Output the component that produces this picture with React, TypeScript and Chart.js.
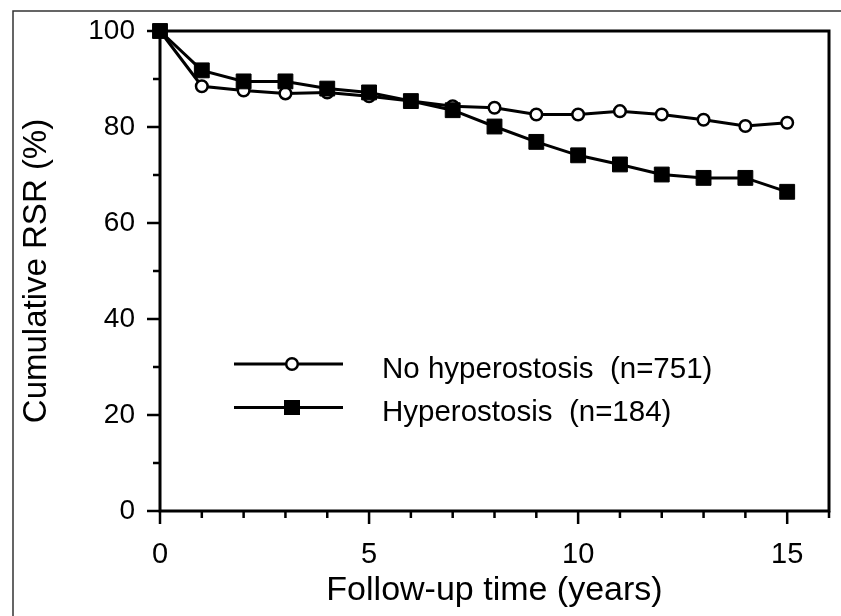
import React, { useEffect, useRef } from 'react';
import { Chart, registerables } from 'chart.js';

Chart.register(...registerables);

// ---- Data ----
const years = [0, 1, 2, 3, 4, 5, 6, 7, 8, 9, 10, 11, 12, 13, 14, 15];
const noHyperostosis = [100, 88.5, 87.6, 87.0, 87.2, 86.4, 85.4, 84.3, 84.0, 82.6, 82.6, 83.3, 82.6, 81.5, 80.2, 80.9];
const hyperostosis = [100, 91.8, 89.5, 89.5, 88.0, 87.2, 85.4, 83.5, 80.1, 76.9, 74.1, 72.2, 70.1, 69.4, 69.4, 66.5];
const xTickValues = [0, 5, 10, 15];
const yTickValues = [0, 20, 40, 60, 80, 100];
const xMinorTicks = [0, 1, 2, 3, 4, 5, 6, 7, 8, 9, 10, 11, 12, 13, 14, 15, 16];
const yMinorTicks = [0, 10, 20, 30, 40, 50, 60, 70, 80, 90, 100];
const seriesLabels = ['No hyperostosis  (n=751)', 'Hyperostosis  (n=184)'];
const xTitle = 'Follow-up time (years)';
const yTitle = 'Cumulative RSR (%)';

const FONT = '"Liberation Sans", Arial, Helvetica, sans-serif';
const W = 841;
const H = 616;

const drawCircleMarker = (ctx: CanvasRenderingContext2D, x: number, y: number) => {
  ctx.beginPath();
  ctx.arc(x, y, 5.8, 0, Math.PI * 2);
  ctx.fillStyle = '#fff';
  ctx.fill();
  ctx.lineWidth = 2.5;
  ctx.strokeStyle = '#000';
  ctx.stroke();
};

const drawSquareMarker = (ctx: CanvasRenderingContext2D, x: number, y: number) => {
  ctx.fillStyle = '#000';
  ctx.fillRect(x - 8, y - 7.5, 16, 15);
};

const decorPlugin = {
  id: 'decor',
  beforeDraw(chart: any) {
    const ctx = chart.ctx as CanvasRenderingContext2D;
    ctx.save();
    ctx.fillStyle = '#fff';
    ctx.fillRect(0, 0, W, H);
    // outer figure frame (top and left visible)
    ctx.strokeStyle = '#333';
    ctx.lineWidth = 1.5;
    ctx.beginPath();
    ctx.moveTo(13, H);
    ctx.lineTo(13, 11);
    ctx.lineTo(W, 11);
    ctx.stroke();
    ctx.restore();
  },
  beforeDatasetsDraw(chart: any) {
    const ctx = chart.ctx as CanvasRenderingContext2D;
    const { left, right, top, bottom } = chart.chartArea;
    const xs = chart.scales.x;
    const ys = chart.scales.y;
    ctx.save();
    ctx.strokeStyle = '#000';
    ctx.lineWidth = 3;
    ctx.strokeRect(left, top, right - left, bottom - top);
    ctx.lineWidth = 2.5;
    ctx.beginPath();
    yMinorTicks.forEach((v) => {
      const py = ys.getPixelForValue(v);
      const len = v % 20 === 0 ? 13 : 7;
      ctx.moveTo(left, py);
      ctx.lineTo(left - len, py);
    });
    xMinorTicks.forEach((v) => {
      const px = xs.getPixelForValue(v);
      const len = v % 5 === 0 ? 13 : 7;
      ctx.moveTo(px, bottom);
      ctx.lineTo(px, bottom + len);
    });
    ctx.stroke();
    ctx.restore();
  },
  afterDraw(chart: any) {
    const ctx = chart.ctx as CanvasRenderingContext2D;
    ctx.save();
    const rows = [
      { y: 364, ty: 370, label: seriesLabels[0], marker: drawCircleMarker },
      { y: 407.5, ty: 413, label: seriesLabels[1], marker: drawSquareMarker },
    ];
    rows.forEach((r) => {
      ctx.strokeStyle = '#000';
      ctx.lineWidth = 3;
      ctx.beginPath();
      ctx.moveTo(234, r.y);
      ctx.lineTo(343, r.y);
      ctx.stroke();
      r.marker(ctx, 292, r.y);
      ctx.fillStyle = '#000';
      ctx.font = `29.5px ${FONT}`;
      ctx.textAlign = 'left';
      ctx.textBaseline = 'middle';
      ctx.fillText(r.label, 382, r.ty);
    });
    ctx.restore();
  },
};

export default function App() {
  const ref = useRef<HTMLCanvasElement | null>(null);

  useEffect(() => {
    document.body.style.margin = '0';
    const canvas = ref.current;
    if (!canvas) return;
    const chart = new Chart(canvas, {
      type: 'line',
      data: {
        datasets: [
          {
            label: seriesLabels[1],
            data: years.map((x, i) => ({ x, y: hyperostosis[i] })),
            borderColor: '#000',
            borderWidth: 3,
            pointStyle: 'rect',
            pointRadius: 10.5,
            pointBackgroundColor: '#000',
            pointBorderColor: '#000',
            pointBorderWidth: 1,
            tension: 0,
            clip: false,
          },
          {
            label: seriesLabels[0],
            data: years.map((x, i) => ({ x, y: noHyperostosis[i] })),
            borderColor: '#000',
            borderWidth: 3,
            pointStyle: 'circle',
            pointRadius: 5.8,
            pointBackgroundColor: '#fff',
            pointBorderColor: '#000',
            pointBorderWidth: 2.5,
            tension: 0,
            clip: false,
          },
        ],
      },
      options: {
        responsive: false,
        animation: false,
        devicePixelRatio: 1,
        layout: { padding: { top: 31, right: 12, left: 0, bottom: 0 } },
        plugins: {
          legend: { display: false },
          tooltip: { enabled: false },
        },
        scales: {
          x: {
            type: 'linear',
            min: 0,
            max: 16,
            grid: { display: false, drawTicks: false },
            border: { display: false },
            afterBuildTicks: (scale: any) => {
              scale.ticks = xTickValues.map((v) => ({ value: v }));
            },
            afterFit: (scale: any) => {
              scale.height = 105;
            },
            ticks: {
              color: '#000',
              padding: 27,
              maxRotation: 0,
              font: { family: FONT, size: 29 },
            },
            title: {
              display: true,
              text: xTitle,
              color: '#000',
              font: { family: FONT, size: 34 },
              padding: { top: 0, bottom: 5 },
            },
          },
          y: {
            type: 'linear',
            min: 0,
            max: 100,
            grid: { display: false, drawTicks: false },
            border: { display: false },
            afterBuildTicks: (scale: any) => {
              scale.ticks = yTickValues.map((v) => ({ value: v }));
            },
            afterFit: (scale: any) => {
              scale.width = 160;
              scale.paddingTop = 0;
              scale.paddingBottom = 0;
            },
            ticks: {
              color: '#000',
              padding: 25,
              font: { family: FONT, size: 28 },
            },
            title: {
              display: true,
              text: yTitle,
              color: '#000',
              font: { family: FONT, size: 33 },
              padding: { top: 17, bottom: 0 },
            },
          },
        },
      },
      plugins: [decorPlugin],
    } as any);
    return () => chart.destroy();
  }, []);

  return (
    <div style={{ width: W, height: H }}>
      <canvas ref={ref} width={W} height={H} style={{ display: 'block' }} />
    </div>
  );
}
